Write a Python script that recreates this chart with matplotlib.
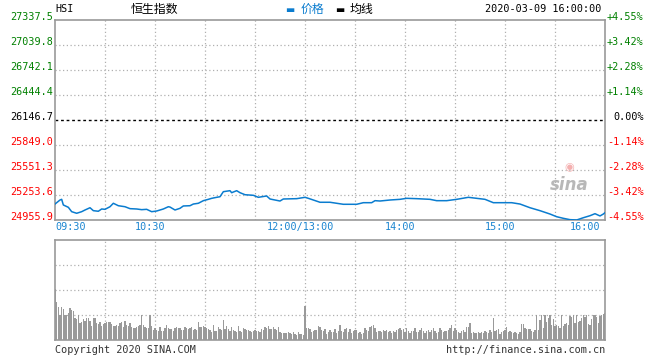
import numpy as np
import matplotlib.pyplot as plt
import matplotlib.transforms as mtransforms

# trading minutes since 09:30 (lunch break removed) and index level
price_minutes = [0, 3, 4, 5, 8, 10, 13, 16, 18, 21, 23, 26, 28, 30, 33, 35, 38, 42, 45, 49,
                 52, 55, 58, 61, 65, 68, 69, 72, 75, 77, 81, 83, 86, 89, 92, 94, 97, 99, 101, 105,
                 106, 109, 111, 114, 119, 122, 127, 129, 135, 137, 145, 150, 152, 155, 159, 165, 173, 181, 185, 190,
                 192, 195, 201, 207, 211, 217, 225, 229, 235, 241, 248, 253, 258, 263, 269, 274, 279, 285, 291, 297,
                 301, 305, 309, 313, 317, 321, 324, 327, 329, 330]
price_values = [25146, 25194, 25202, 25135, 25107, 25055, 25036, 25055, 25075, 25102,
                25067, 25060, 25087, 25083, 25114, 25155, 25126, 25114, 25091, 25087,
                25079, 25083, 25055, 25063, 25087, 25114, 25110, 25075, 25095, 25123,
                25126, 25146, 25155, 25186, 25202, 25214, 25226, 25233, 25293, 25305,
                25281, 25305, 25281, 25257, 25250, 25226, 25242, 25206, 25182, 25206,
                25210, 25226, 25214, 25194, 25167, 25167, 25143, 25143, 25162, 25162,
                25186, 25182, 25194, 25202, 25214, 25210, 25202, 25186, 25186, 25202,
                25226, 25214, 25202, 25162, 25162, 25162, 25146, 25102, 25067, 25027,
                24995, 24976, 24960, 24956, 24983, 25007, 25031, 25004, 25027, 25043]

# one bar per minute, relative height (panel top = 100)
volume = ([51, 38, 33, 25, 33, 31, 25, 25, 27, 32, 30, 29, 22, 21, 25]
          + [17, 18, 21, 19, 22, 22, 19, 14, 22, 22, 17, 16, 18, 14, 16]
          + [17, 18, 18, 18, 16, 14, 14, 15, 14, 17, 18, 13, 19, 15, 14, 17, 13, 12, 12, 13, 14, 15]
          + [25, 15, 13, 12, 12, 25]
          + [14, 10, 12, 10, 9, 13, 9, 9, 12, 15, 12, 11, 11, 9, 12, 13, 12, 12, 10, 10, 13, 12, 11, 12, 13, 10, 11]
          + [10, 18, 13, 13, 14, 13, 12, 11, 10, 8, 15, 9, 9, 13, 11, 10]
          + [20]
          + [11, 14, 11, 9, 13, 10, 9, 8, 14, 9, 8, 12, 11, 10, 10, 9, 8, 9, 10]
          + [9, 9, 8, 11, 10, 13, 12, 14, 11, 11, 13, 11, 10, 13, 8, 7, 7, 7, 7, 8, 7, 6, 8, 6, 5, 8, 6, 6, 5]
          + [34]
          + [12, 12, 11, 8, 9, 10, 10, 14, 13, 10, 9, 11, 6, 8, 10, 8]
          + [8, 11, 7, 9, 15, 9, 8, 11, 12, 8, 11, 7, 9, 10]
          + [10, 7, 8, 6, 7, 12, 10, 9, 13, 14, 15, 12, 8, 9, 9, 8, 10, 9, 10, 8]
          + [9, 7, 9, 8, 10, 11, 12, 10, 11, 8, 12, 9, 7, 9, 9, 12, 8, 8, 10, 12]
          + [9, 7, 9, 10, 8, 10, 12, 9, 7, 8, 12, 10, 8, 9, 9, 10, 12, 15, 9, 12]
          + [10, 8, 7, 9, 10, 8, 13, 13, 17]
          + [7, 8, 7, 7, 8, 7, 8, 7, 9, 8, 7, 10, 8]
          + [22]
          + [9, 10, 11, 6, 8, 9, 10, 13, 8, 9, 8, 7, 8, 7, 6, 8]
          + [16, 16, 12, 11, 11, 11, 9, 8, 10]
          + [25, 10, 20, 25, 12, 25, 18, 22, 25, 15, 21]
          + [14, 15, 14, 12, 25, 14, 16, 17, 15, 24, 23]
          + [25, 17, 25, 18, 19, 22, 25, 23, 25, 16, 15, 21, 25, 25, 23, 17, 24, 25, 26, 27])

prev_close = 26146.7
price_ticks = [27337.5, 27039.8, 26742.1, 26444.4, 26146.7, 25849.0, 25551.3, 25253.6, 24955.9]
pct_labels = ['+4.55%', '+3.42%', '+2.28%', '+1.14%', '0.00%', '-1.14%', '-2.28%', '-3.42%', '-4.55%']
time_ticks = [0, 60, 150, 210, 270, 330]
time_labels = ['09:30', '10:30', '12:00/13:00', '14:00', '15:00', '16:00']

MONO = 'DejaVu Sans Mono'
CJK = ['Noto Sans CJK SC', 'DejaVu Sans']
GREEN, RED, BLUE = '#008000', '#ff0000', '#1a85d0'
GRID, FRAME = '#b0b0b0', '#999999'

fig = plt.figure(figsize=(6.6, 3.6), dpi=100)
ax = fig.add_axes([55 / 660, 140 / 360, 550 / 660, 200 / 360])
axv = fig.add_axes([55 / 660, 20 / 360, 550 / 660, 100 / 360])

for a in (ax, axv):
    a.set_xlim(0, 330)
    a.set_xticks([])
    a.set_yticks([])
    for s in a.spines.values():
        s.set_color(FRAME)
        s.set_linewidth(1.2)
    for m in range(30, 330, 30):
        a.axvline(m, color=GRID, lw=0.9, ls=(0, (1, 2)), zorder=0)

# price panel
ax.set_ylim(price_ticks[-1], price_ticks[0])
for v in price_ticks[1:-1]:
    if v == prev_close:
        ax.axhline(v, color='black', lw=1.0, ls=(0, (2, 2)), zorder=1)
    else:
        ax.axhline(v, color=GRID, lw=0.9, ls=(0, (1, 2)), zorder=0)
ax.plot(price_minutes, price_values, color='#0a7ccf', lw=1.1, zorder=3)

up = mtransforms.ScaledTranslation(0, 3 / 100, fig.dpi_scale_trans)
for v, p in zip(price_ticks, pct_labels):
    c = GREEN if v > prev_close else (RED if v < prev_close else 'black')
    ax.text(-0.004, v, f'{v:.1f}', transform=ax.get_yaxis_transform() + up,
            ha='right', va='center', color=c, fontsize=7.3, family=MONO)
    ax.text(1.07, v, p, transform=ax.get_yaxis_transform() + up,
            ha='right', va='center', color=c, fontsize=7.3, family=MONO)

left = mtransforms.ScaledTranslation(-5 / 100, 0, fig.dpi_scale_trans)
for i, (t, lab) in enumerate(zip(time_ticks, time_labels)):
    if i == 0:
        ha, tr = 'left', ax.get_xaxis_transform()
    elif i == len(time_ticks) - 1:
        ha, tr = 'right', ax.get_xaxis_transform() + left
    else:
        ha, tr = 'center', ax.get_xaxis_transform() + left
    ax.text(t, -0.035, lab, transform=tr, ha=ha, va='center',
            color=BLUE, fontsize=7.3, family=MONO)

# sina watermark
ax.text(0.935, 0.175, 'sina', transform=ax.transAxes, ha='center', va='center',
        fontsize=12, fontweight='bold', style='italic', color='#b8b8b8', zorder=2)
ax.text(0.935, 0.265, '◉', transform=ax.transAxes, ha='center', va='center',
        fontsize=8, color='#f4b0b0', zorder=2)

# volume panel
axv.set_ylim(0, 100)
for v in (25, 50, 75):
    axv.axhline(v, color=GRID, lw=0.9, ls=(0, (1, 2)), zorder=0)
axv.bar(np.arange(len(volume)), volume, width=0.8, color='#9a9a9a', zorder=2)

# header and footer
fig.text(55 / 660, 1 - 9 / 360, 'HSI', ha='left', va='center', fontsize=7.3, family=MONO)
fig.text(154 / 660, 1 - 9 / 360, '恒生指数', ha='center', va='center', fontsize=8.6, family=CJK)
fig.text(285 / 660, 1 - 10 / 360, '▬', ha='left', va='center', fontsize=7, color='#0a7ccf', family=CJK)
fig.text(301 / 660, 1 - 9 / 360, '价格', ha='left', va='center', fontsize=8.6, color='#0a7ccf', family=CJK)
fig.text(335 / 660, 1 - 10 / 360, '▬', ha='left', va='center', fontsize=7, color='black', family=CJK)
fig.text(350 / 660, 1 - 9 / 360, '均线', ha='left', va='center', fontsize=8.6, family=CJK)
fig.text(601 / 660, 1 - 9 / 360, '2020-03-09 16:00:00', ha='right', va='center', fontsize=7.3, family=MONO)
fig.text(55 / 660, 10 / 360, 'Copyright 2020 SINA.COM', ha='left', va='center',
         fontsize=7.3, family=MONO, color='#333333')
fig.text(605 / 660, 10 / 360, 'http://finance.sina.com.cn', ha='right', va='center',
         fontsize=7.3, family=MONO, color='#333333')

fig.savefig('out.png', dpi=100)
plt.close(fig)
